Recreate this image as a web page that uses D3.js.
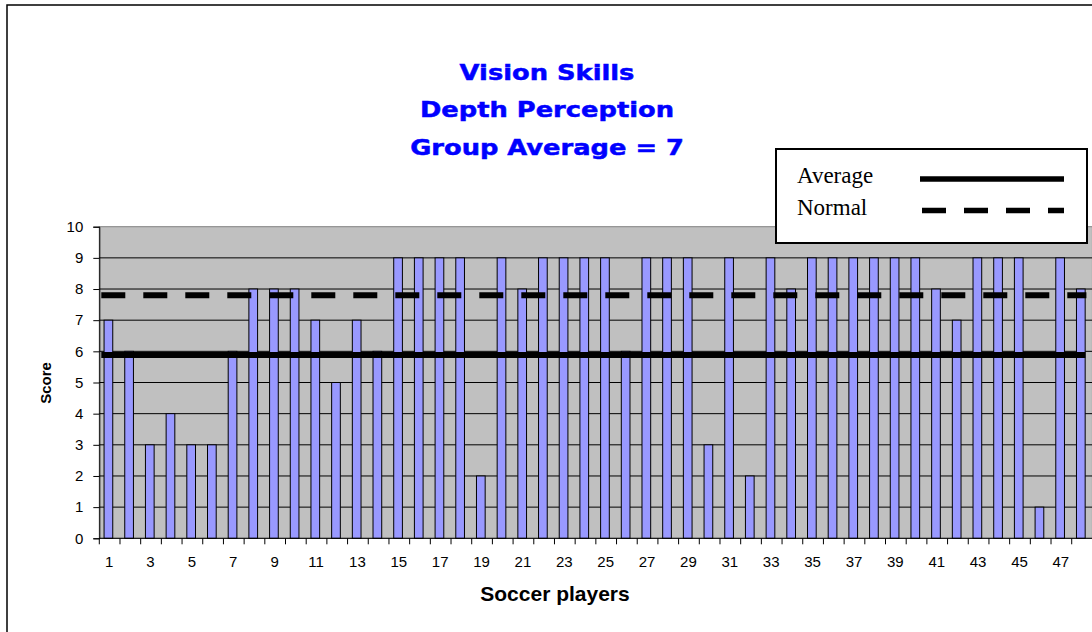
<!DOCTYPE html>
<html>
<head>
<meta charset="utf-8">
<script src="https://cdn.jsdelivr.net/npm/d3@7"></script>
<style>
  body { margin: 0; background: #fff; }
  svg { display: block; }
</style>
</head>
<body>
<svg id="chart" width="1092" height="632"></svg>
<script>
(function(){
	'use strict';

	// chart data
	var titleLines = ['Vision Skills', 'Depth Perception', 'Group Average = 7'];
	var players = d3.range(1, 49);
	var scores = [7, 6, 3, 4, 3, 3, 6, 8, 8, 8, 7, 5, 7, 6, 9, 9,
		9, 9, 2, 9, 8, 9, 9, 9, 9, 6, 9, 9, 9, 3, 9, 2,
		9, 8, 9, 9, 9, 9, 9, 9, 8, 7, 9, 9, 9, 1, 9, 8];
	var yTicks = [0, 1, 2, 3, 4, 5, 6, 7, 8, 9, 10];
	var xTickLabels = players.filter(function(p){ return p % 2 === 1; });
	var averageValue = 5.88;
	var normalValue = 7.8;
	var legendItems = ['Average', 'Normal'];

	var svg = d3.select('#chart');

	// outer chart border (runs off the right and bottom)
	svg.append('rect')
		.attr('x', 7).attr('y', 5)
		.attr('width', 1120).attr('height', 660)
		.attr('fill', '#fff')
		.attr('stroke', '#000')
		.attr('stroke-width', 1.5);

	var plot = { left: 99.3, right: 1092.4, top: 226.7, bottom: 538.3 };

	var x = d3.scaleBand()
		.domain(players)
		.range([plot.left, plot.right])
		.padding(0);

	var y = d3.scaleLinear()
		.domain([0, 10])
		.range([plot.bottom, plot.top]);

	// plot background
	svg.append('rect')
		.attr('x', plot.left).attr('y', plot.top)
		.attr('width', plot.right - plot.left)
		.attr('height', plot.bottom - plot.top)
		.attr('fill', '#c0c0c0')
		.attr('stroke', '#808080')
		.attr('stroke-width', 1);

	// gridlines
	svg.append('g')
		.selectAll('line')
		.data(yTicks.filter(function(t){ return t > 0 && t < 10; }))
		.enter()
		.append('line')
			.attr('x1', plot.left).attr('x2', plot.right)
			.attr('y1', (d) => y(d)).attr('y2', (d) => y(d))
			.attr('stroke', '#000')
			.attr('stroke-width', 1);

	// bars
	var bw = x.bandwidth();
	svg.append('g')
		.selectAll('rect')
		.data(scores)
		.enter()
		.append('rect')
			.attr('x', (d, i) => x(players[i]) + bw * 0.23)
			.attr('width', bw * 0.42)
			.attr('y', (d) => y(d))
			.attr('height', (d) => y(0) - y(d))
			.attr('fill', '#9999ff')
			.attr('stroke', '#000')
			.attr('stroke-width', 1);

	// reference lines
	svg.append('line')
		.attr('x1', plot.left + 2).attr('x2', plot.right - 7)
		.attr('y1', y(averageValue)).attr('y2', y(averageValue))
		.attr('stroke', '#000')
		.attr('stroke-width', 6);

	svg.append('line')
		.attr('x1', plot.left + 2).attr('x2', plot.right - 6)
		.attr('y1', y(normalValue)).attr('y2', y(normalValue))
		.attr('stroke', '#000')
		.attr('stroke-width', 6)
		.attr('stroke-dasharray', '24,18');

	// y axis
	var yAxis = svg.append('g')
		.attr('transform', 'translate(' + plot.left + ',0)')
		.call(d3.axisLeft(y).tickValues(yTicks).tickSize(6).tickPadding(10));
	yAxis.select('.domain').attr('stroke', '#000');
	yAxis.selectAll('text')
		.attr('font-family', 'Liberation Sans, Arial, sans-serif')
		.attr('font-size', 15)
		.attr('fill', '#000');

	// x axis: baseline, ticks on category boundaries, odd labels
	var xAxis = svg.append('g')
		.attr('transform', 'translate(0,' + plot.bottom + ')');
	xAxis.append('line')
		.attr('x1', plot.left).attr('x2', plot.right)
		.attr('stroke', '#000');
	xAxis.selectAll('line.tick')
		.data(players)
		.enter()
		.append('line')
			.attr('class', 'tick')
			.attr('x1', (d) => x(d)).attr('x2', (d) => x(d))
			.attr('y1', 0).attr('y2', 6)
			.attr('stroke', '#000');
	xAxis.selectAll('text')
		.data(xTickLabels)
		.enter()
		.append('text')
			.attr('x', (d) => x(d) + bw / 2 - 0.5)
			.attr('y', 29)
			.attr('text-anchor', 'middle')
			.attr('font-family', 'Liberation Sans, Arial, sans-serif')
			.attr('font-size', 15)
			.text((d) => d);

	// axis titles
	svg.append('text')
		.attr('x', 555).attr('y', 601)
		.attr('text-anchor', 'middle')
		.attr('font-family', 'Liberation Sans, Arial, sans-serif')
		.attr('font-weight', 'bold')
		.attr('font-size', 21)
		.text('Soccer players');

	svg.append('text')
		.attr('transform', 'translate(51,383) rotate(-90)')
		.attr('text-anchor', 'middle')
		.attr('font-family', 'Liberation Sans, Arial, sans-serif')
		.attr('font-weight', 'bold')
		.attr('font-size', 15)
		.text('Score');

	// title
	var title = svg.append('g')
		.attr('transform', 'translate(547,0) scale(1.17,1)');
	title.selectAll('text')
		.data(titleLines)
		.enter()
		.append('text')
			.attr('x', 0)
			.attr('y', (d, i) => [80.5, 117.5, 155][i])
			.attr('text-anchor', 'middle')
			.attr('font-family', 'DejaVu Sans, sans-serif')
			.attr('font-weight', 'bold')
			.attr('font-size', 22)
			.attr('fill', '#0000ff')
			.attr('stroke', '#0000ff')
			.attr('stroke-width', 0.5)
			.text((d) => d);

	// legend
	var legend = svg.append('g');
	legend.append('rect')
		.attr('x', 776).attr('y', 149)
		.attr('width', 311).attr('height', 94)
		.attr('fill', '#fff')
		.attr('stroke', '#000')
		.attr('stroke-width', 2);
	legend.selectAll('text')
		.data(legendItems)
		.enter()
		.append('text')
			.attr('x', 797)
			.attr('y', (d, i) => 183 + i * 31.5)
			.attr('font-family', 'Liberation Serif, Times New Roman, serif')
			.attr('font-size', 23)
			.text((d) => d);
	legend.selectAll('line')
		.data(legendItems)
		.enter()
		.append('line')
			.attr('x1', (d, i) => i === 0 ? 920 : 922)
			.attr('x2', 1064)
			.attr('y1', (d, i) => 179 + i * 31.5)
			.attr('y2', (d, i) => 179 + i * 31.5)
			.attr('stroke', '#000')
			.attr('stroke-width', 5.5)
			.attr('stroke-dasharray', (d, i) => i === 0 ? null : '24,18');
})();
</script>
</body>
</html>
